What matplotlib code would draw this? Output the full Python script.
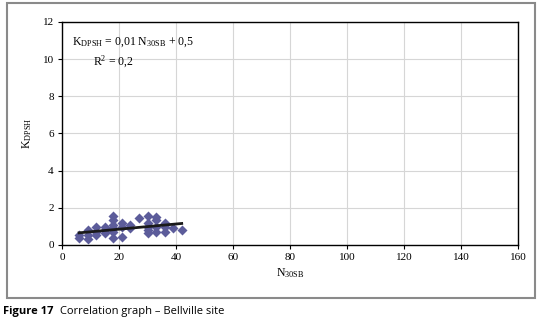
import matplotlib
matplotlib.use("Agg")
import matplotlib.pyplot as plt
from matplotlib.patches import Rectangle

plt.rcParams['font.family'] = ['Liberation Serif', 'DejaVu Serif']
plt.rcParams['mathtext.fontset'] = 'custom'
plt.rcParams['mathtext.rm'] = 'Liberation Serif'
plt.rcParams['mathtext.it'] = 'Liberation Serif:italic'
plt.rcParams['mathtext.bf'] = 'Liberation Serif:bold'

# Data
n30sb = [6, 6, 9, 9, 9, 12, 12, 12, 15, 15, 15,
         18, 18, 18, 18, 18, 18, 21, 21, 21, 24, 24, 27,
         30, 30, 30, 30, 30, 33, 33, 33, 33, 36, 36, 36, 39, 42]
kdpsh = [0.4, 0.55, 0.8, 0.55, 0.3, 0.98, 0.7, 0.55, 0.98, 0.8, 0.62,
         1.55, 1.34, 1.1, 0.9, 0.7, 0.36, 1.16, 0.98, 0.45, 1.07, 0.9, 1.43,
         1.55, 1.16, 0.98, 0.8, 0.62, 1.5, 1.34, 0.98, 0.7, 1.2, 0.98, 0.7, 0.9, 0.8]
trend_x = [6, 42]
slope = 0.014
intercept = 0.57
x_ticks = [0, 20, 40, 60, 80, 100, 120, 140, 160]
y_ticks = [0, 2, 4, 6, 8, 10, 12]

fig = plt.figure(figsize=(5.41, 3.23), dpi=100)

# outer frame
fig.patches.append(Rectangle((0.013, 0.077), 0.976, 0.914, transform=fig.transFigure,
                             fill=False, edgecolor='#8a8a8a', linewidth=1.5))

ax = fig.add_axes([0.1146, 0.2415, 0.843, 0.6905])
ax.scatter(n30sb, kdpsh, marker='D', s=26, color='#5c5c9a', zorder=3, linewidths=0)
trend_y = [slope * x + intercept for x in trend_x]
ax.plot(trend_x, trend_y, color='#1a1a1a', linewidth=2.0, zorder=4)

ax.set_xlim(0, 160)
ax.set_ylim(0, 12)
ax.set_xticks(x_ticks)
ax.set_yticks(y_ticks)
ax.grid(True, color='#d6d6d6', linewidth=0.8)
ax.set_axisbelow(True)
for s in ax.spines.values():
    s.set_color('black')
    s.set_linewidth(1.0)
ax.tick_params(axis='both', labelsize=8, length=3, width=0.8, colors='black', pad=3)

ax.set_xlabel(r'N$_{\mathrm{30SB}}$', fontsize=8.5, labelpad=3)
ax.set_ylabel(r'K$_{\mathrm{DPSH}}$', fontsize=8.5, labelpad=6)

ax.text(0.022, 0.94, r'K$_{\mathrm{DPSH}}$ = 0,01 N$_{\mathrm{30SB}}$ + 0,5', transform=ax.transAxes,
        fontsize=8.5, va='top', ha='left')
ax.text(0.068, 0.855, r'R$^{2}$ = 0,2', transform=ax.transAxes,
        fontsize=8.5, va='top', ha='left')

fig.text(0.006, 0.035, 'Figure 17', fontsize=8, fontweight='bold',
         family=['Open Sans', 'DejaVu Sans'], va='center', ha='left')
fig.text(0.11, 0.035, 'Correlation graph \u2013 Bellville site', fontsize=8,
         family=['Open Sans', 'DejaVu Sans'], va='center', ha='left')

fig.savefig('out.png', dpi=100)
